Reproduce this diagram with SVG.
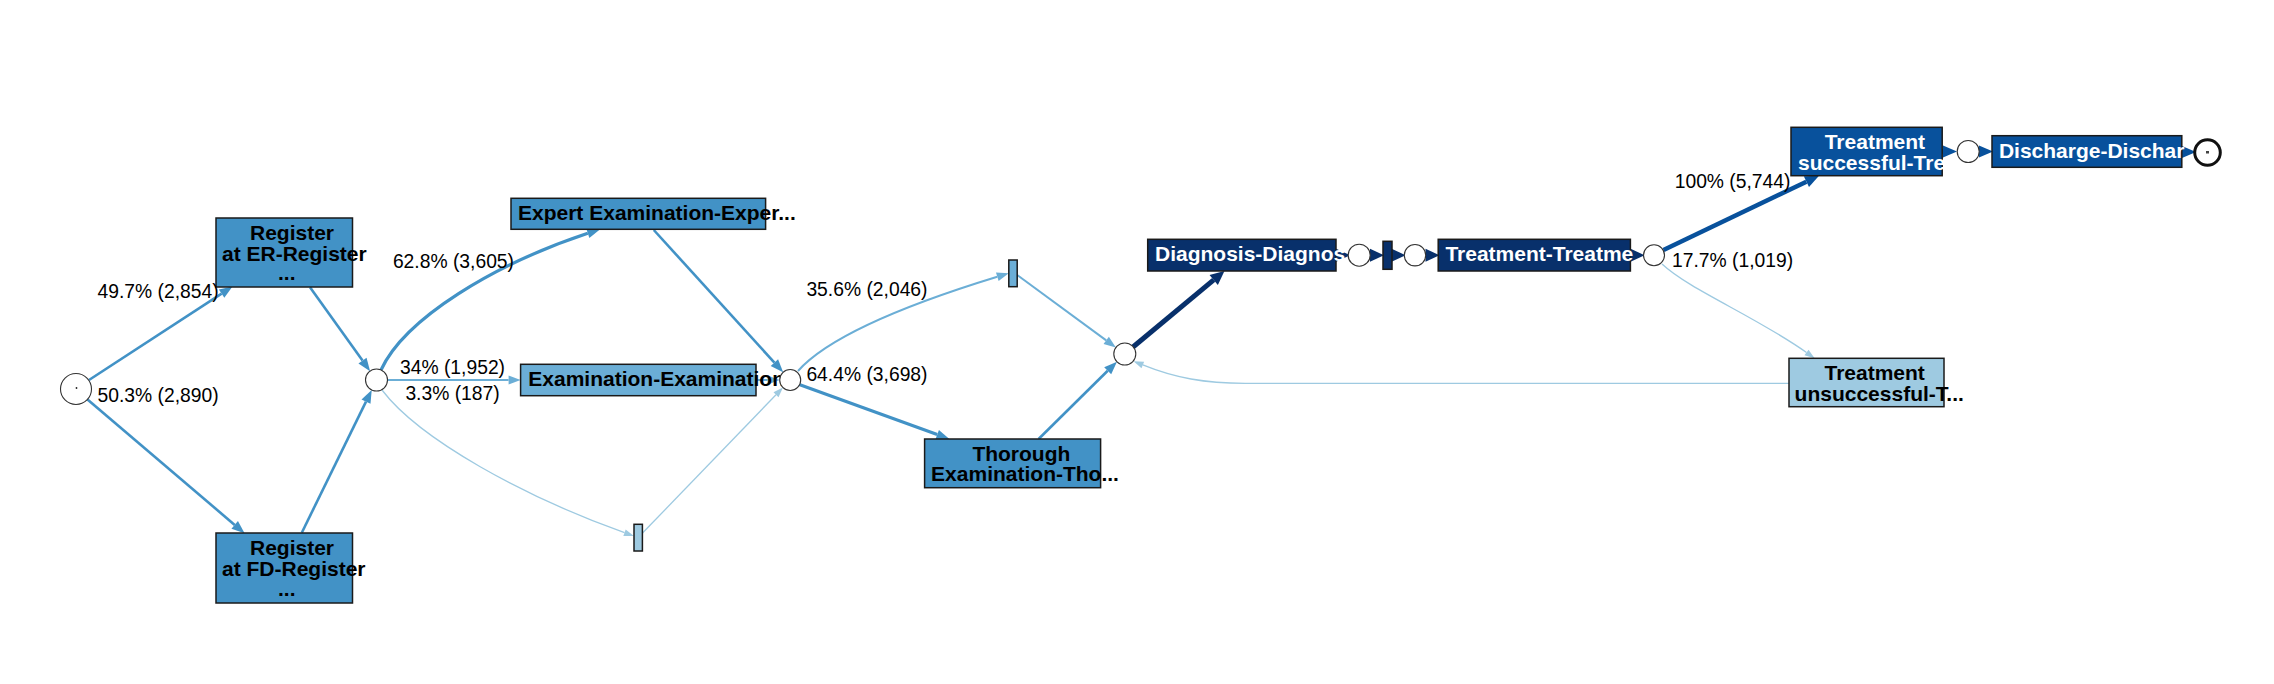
<svg xmlns="http://www.w3.org/2000/svg" width="2274" height="684" viewBox="0 0 2274 684">
<style>
  .bg { fill: #ffffff; }
  .box { stroke: #1a1a1a; stroke-width: 1.5; }
  .place { fill: #ffffff; stroke: #333333; stroke-width: 1.1; }
  .t { font-family: "Liberation Sans", Arial, Helvetica, sans-serif; font-weight: bold; font-size: 21px; fill: #000000; }
  .tw { fill: #ffffff; }
  .lbl { font-family: "Liberation Sans", Arial, Helvetica, sans-serif; font-size: 19.3px; fill: #000000; }
  .c1 { fill: #4292c6; }
  .c2 { fill: #6baed6; }
  .c3 { fill: #9ecae1; }
  .c4 { fill: #08306b; }
  .c5 { fill: #08519c; }
  .e { fill: none; }
  .eB { stroke: #4292c6; stroke-width: 2.6; marker-end: url(#aB); }
  .eBt { stroke: #4292c6; stroke-width: 3.2; marker-end: url(#aB); }
  .eM { stroke: #6baed6; stroke-width: 2; marker-end: url(#aM); }
  .eL { stroke: #9ecae1; stroke-width: 1.3; marker-end: url(#aL); }
  .eD { stroke: #08306b; stroke-width: 5; marker-end: url(#aD); }
  .eD2 { stroke: #08519c; stroke-width: 4.5; marker-end: url(#aD2); }
</style>
<defs>
  <marker id="aB" markerUnits="userSpaceOnUse" markerWidth="13" markerHeight="10" refX="0" refY="5" orient="auto" overflow="visible">
    <path d="M0,0 L13,5 L0,10 z" fill="#4292c6"/>
  </marker>
  <marker id="aM" markerUnits="userSpaceOnUse" markerWidth="12" markerHeight="9" refX="0" refY="4.5" orient="auto" overflow="visible">
    <path d="M0,0 L12,4.5 L0,9 z" fill="#6baed6"/>
  </marker>
  <marker id="aL" markerUnits="userSpaceOnUse" markerWidth="10" markerHeight="7" refX="0" refY="3.5" orient="auto" overflow="visible">
    <path d="M0,0 L10,3.5 L0,7 z" fill="#9ecae1"/>
  </marker>
  <marker id="aD" markerUnits="userSpaceOnUse" markerWidth="14" markerHeight="13" refX="0" refY="6.5" orient="auto" overflow="visible">
    <path d="M0,0 L14,6.5 L0,13 z" fill="#08306b"/>
  </marker>
  <marker id="aD2" markerUnits="userSpaceOnUse" markerWidth="14" markerHeight="12" refX="0" refY="6" orient="auto" overflow="visible">
    <path d="M0,0 L14,6 L0,12 z" fill="#08519c"/>
  </marker>
</defs>
<rect class="bg" x="0" y="0" width="2274" height="684"/>

<g id="connectors">
  <path class="e eB" d="M89,380 L221.6,293.6"/>
  <path class="e eB" d="M87.5,399.5 L234.7,524.9"/>
  <path class="e eB" d="M310,287.3 L362.5,360.6"/>
  <path class="e eB" d="M301.8,532.7 L366,401.6"/>
  <path class="e eM" d="M387.5,380 L508.6,380"/>
  <path class="e eBt" d="M381,370 C405,318 495,264 587.8,233.3"/>
  <path class="e eL" d="M382,390 C420,440 525,497 624.5,532.7"/>
  <path class="e eB" d="M653.8,230 L774.4,362.6"/>
  <path class="e eM" d="M756,380 L767.7,380"/>
  <path class="e eL" d="M642.3,533.3 L776,394.8"/>
  <path class="e eBt" d="M799.2,384.5 L937.2,434.6"/>
  <path class="e eM" d="M798,371 C830,335 915,302 997.3,276.8"/>
  <path class="e eM" d="M1017.2,275 L1106.2,340.4"/>
  <path class="e eB" d="M1038.6,439 L1107.7,370.8"/>
  <path class="e eD" d="M1133,347 L1213.7,279.9"/>
  <path class="e eD" d="M1335,255.2 L1336.2,255.2"/>
  <path class="e eD" d="M1369.5,255.2 L1370,255.2"/>
  <path class="e eD" d="M1391,255.2 L1391.6,255.2"/>
  <path class="e eD" d="M1425,255.2 L1425.5,255.2"/>
  <path class="e eD" d="M1630,255.2 L1630.6,255.2"/>
  <path class="e eD2" d="M1663.5,250 L1806.4,181.7"/>
  <path class="e eD2" d="M1942,151.5 L1943,151.5"/>
  <path class="e eD2" d="M1978.5,151.5 L1979,151.5"/>
  <path class="e eD2" d="M2181.5,152 L2182,152"/>
  <path class="e eL" d="M1662,264 C1690,290 1755,316 1806.5,352.5"/>
  <path class="e eL" d="M1789,383.3 L1245,383.3 C1205,383.3 1175,378 1142.8,364.9"/>
</g>

<g id="start">
  <circle class="place" cx="76" cy="389" r="15.5"/>
  <circle cx="76.5" cy="388" r="0.9" fill="#222222"/>
</g>

<g id="register_er">
  <rect class="box c1" x="216" y="218" width="136.5" height="69"/>
  <text class="t" x="250" y="240">Register</text>
  <text class="t" x="222" y="260.5">at ER-Register</text>
  <text class="t" x="278" y="280">...</text>
</g>

<g id="register_fd">
  <rect class="box c1" x="216" y="533" width="136.5" height="70"/>
  <text class="t" x="250" y="555">Register</text>
  <text class="t" x="222" y="575.5">at FD-Register</text>
  <text class="t" x="278" y="596">...</text>
</g>

<g id="j1"><circle class="place" cx="376.5" cy="380" r="11"/></g>

<g id="expert_examination">
  <rect class="box c1" x="511" y="198.3" width="254.6" height="31"/>
  <text class="t" x="518" y="220">Expert Examination-Exper...</text>
</g>

<g id="examination">
  <rect class="box c2" x="520.6" y="364.3" width="235.4" height="31.4"/>
  <text class="t" x="528.3" y="386">Examination-Examination</text>
</g>

<g id="tau1"><rect class="box c3" x="634" y="524.3" width="8.4" height="26.7"/></g>

<g id="j2"><circle class="place" cx="790.2" cy="380" r="10.5"/></g>

<g id="tau2"><rect class="box c2" x="1008.8" y="260" width="8.4" height="26.7"/></g>

<g id="thorough_examination">
  <rect class="box c1" x="924.6" y="439" width="176" height="48.7"/>
  <text class="t" x="972.4" y="460.7">Thorough</text>
  <text class="t" x="931.1" y="481">Examination-Tho...</text>
</g>

<g id="j3"><circle class="place" cx="1124.8" cy="354" r="11"/></g>

<g id="diagnosis">
  <rect class="box c4" x="1147.7" y="239.3" width="188.3" height="31.7"/>
  <text class="t tw" x="1155" y="261">Diagnosis-Diagnos</text>
</g>

<g id="j4"><circle class="place" cx="1359.2" cy="255.2" r="11"/></g>

<g id="tau3"><rect class="box c4" x="1383" y="241.3" width="9" height="28"/></g>

<g id="j5"><circle class="place" cx="1415" cy="255.2" r="10.7"/></g>

<g id="treatment">
  <rect class="box c4" x="1438.2" y="239.3" width="192.2" height="31.7"/>
  <text class="t tw" x="1445.4" y="261">Treatment-Treatme</text>
</g>

<g id="j6"><circle class="place" cx="1654" cy="255.3" r="10.5"/></g>

<g id="treatment_successful">
  <rect class="box c5" x="1791" y="127.3" width="151.2" height="48.4"/>
  <text class="t tw" x="1824.7" y="149.3">Treatment</text>
  <text class="t tw" x="1798" y="170">successful-Tre</text>
</g>

<g id="j7"><circle class="place" cx="1968.2" cy="151.5" r="11"/></g>

<g id="discharge">
  <rect class="box c5" x="1992" y="135.7" width="189.8" height="31.6"/>
  <text class="t tw" x="1998.9" y="157.5">Discharge-Dischar</text>
</g>

<g id="end">
  <circle cx="2207.5" cy="152.5" r="12.8" fill="#ffffff" stroke="#111111" stroke-width="3"/>
  <rect x="2206" y="151" width="3" height="2.5" fill="#444444"/>
</g>

<g id="treatment_unsuccessful">
  <rect class="box c3" x="1789" y="358.3" width="155" height="48.4"/>
  <text class="t" x="1824.5" y="380.3">Treatment</text>
  <text class="t" x="1794.6" y="401">unsuccessful-T...</text>
</g>

<g id="labels">
  <text class="lbl" x="97.5" y="298.3">49.7% (2,854)</text>
  <text class="lbl" x="97.5" y="401.7">50.3% (2,890)</text>
  <text class="lbl" x="392.9" y="268.3">62.8% (3,605)</text>
  <text class="lbl" x="400" y="374">34% (1,952)</text>
  <text class="lbl" x="405.4" y="400">3.3% (187)</text>
  <text class="lbl" x="806.4" y="296">35.6% (2,046)</text>
  <text class="lbl" x="806.4" y="381">64.4% (3,698)</text>
  <text class="lbl" x="1674.7" y="188.3">100% (5,744)</text>
  <text class="lbl" x="1672" y="266.5">17.7% (1,019)</text>
</g>
</svg>
